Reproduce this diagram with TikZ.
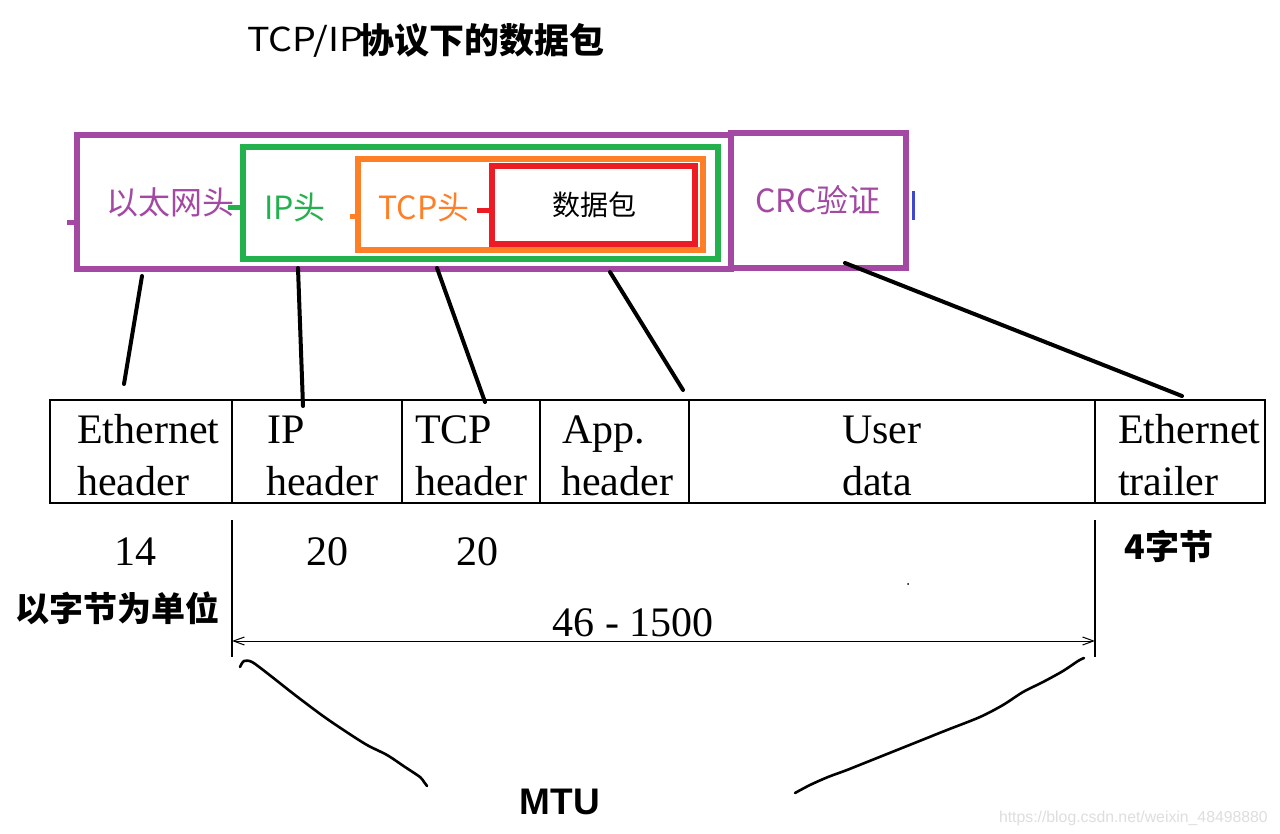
\documentclass[tikz,border=0pt]{standalone}
\usepackage{fontspec}
\setmainfont{Liberation Serif}
\newfontfamily\cjk{Noto Sans CJK SC}
\newfontfamily\arialf{Liberation Sans}
\usetikzlibrary{arrows.meta}
\definecolor{ppl}{HTML}{A349A4}
\definecolor{grn}{HTML}{22B14C}
\definecolor{org}{HTML}{FF7F27}
\definecolor{rd}{HTML}{ED1C24}
\definecolor{blu}{HTML}{3F48CC}
\begin{document}
\begin{tikzpicture}[x=1pt,y=-1pt,
  cbox/.style={draw=#1, line width=5.5pt, inner sep=0pt, fill=none},
  lab/.style={font=\cjk\fontsize{32}{36}\selectfont, text=#1, inner sep=0pt},
  cell/.style={draw, line width=1.2pt, inner sep=0pt, minimum height=103pt},
  tt/.style={font=\fontsize{42}{50}\selectfont, inner sep=0pt, anchor=base west},
  num/.style={font=\fontsize{42}{50}\selectfont, inner sep=0pt, anchor=base},
  bold cjk/.style={font=\cjk\bfseries\fontsize{34}{38}\selectfont, inner sep=0pt},
  hand/.style={line width=4pt, line cap=round},
  pen/.style={line width=2.6pt, line cap=round, line join=round},
  stub/.style={line width=5pt}
]
\useasboundingbox (0,0) rectangle (1280,834);
\fill[white] (0,0) rectangle (1280,834);

% title
\node[inner sep=0pt, anchor=base west, font=\cjk\fontsize{33}{36}\selectfont] (titA) at (247,52) {\scalebox{1.14}[1]{TCP/IP}};
\node[inner sep=0pt, anchor=west, font=\cjk\bfseries\fontsize{35}{38}\selectfont] (titB) at (359,40) {协议下的数据包};

% top boxes
\node[cbox=ppl, line width=6pt, minimum width=654pt, minimum height=134pt] (eth) at (404,202) {};
\node[cbox=ppl, line width=6pt, minimum width=175pt, minimum height=135pt] (crc) at (818.5,200.5) {};
\node[cbox=grn, minimum width=475pt, minimum height=112pt] (ip) at (480.5,203) {};
\node[cbox=org, minimum width=345pt, minimum height=91pt] (tcp) at (530.5,204.5) {};
\node[cbox=rd, minimum width=203pt, minimum height=78pt] (dat) at (593.5,205) {};

\node[lab=ppl] (ethl) at (170,202) {以太网头};
\node[lab=grn] (ipl) at (295,207) {IP头};
\node[lab=org] (tcpl) at (424,207) {TCP头};
\node[lab=black, font=\cjk\fontsize{28}{32}\selectfont] (datl) at (594,205) {数据包};
\node[lab=ppl] (crcl) at (818,200) {CRC验证};

% small stubs
\draw[stub, ppl] (67,223) -- (77,223);
\draw[stub, grn] (ethl.east |- 0,208) ++(-6,0) -- (243,208);
\draw[stub, org] (350,217) -- (358,217);
\draw[stub, rd] (477,211) -- (492,211);
\draw[line width=3.5pt, blu] (913.5,191) -- (913.5,220);

% table
\node[cell, minimum width=182pt] (c1) at (141,451.5) {};
\node[cell, minimum width=170pt] (c2) at (317,451.5) {};
\node[cell, minimum width=138pt] (c3) at (471,451.5) {};
\node[cell, minimum width=149pt] (c4) at (614.5,451.5) {};
\node[cell, minimum width=406pt] (c5) at (892,451.5) {};
\node[cell, minimum width=170pt] (c6) at (1180,451.5) {};

\node[tt] (t1a) at (77,443) {Ethernet};
\node[tt] (t1b) at (77,495) {header};
\node[tt] (t2a) at (267,443) {IP};
\node[tt] (t2b) at (266,495) {header};
\node[tt] (t3a) at (415,443) {TCP};
\node[tt] (t3b) at (415,495) {header};
\node[tt] (t4a) at (562,443) {App.};
\node[tt] (t4b) at (561,495) {header};
\node[tt] (t5a) at (842,443) {User};
\node[tt] (t5b) at (842,495) {data};
\node[tt] (t6a) at (1118,443) {Ethernet};
\node[tt] (t6b) at (1118,495) {trailer};

% numbers
\node[num] (n14) at (135,565) {14};
\node[num] (n20a) at (327,565) {20};
\node[num] (n20b) at (477,565) {20};
\node[num] (nmtu) at (633,636) {46 - 1500};
\node[bold cjk] (unit) at (118,608) {以字节为单位};
\node[bold cjk] (four) at (1169,546) {4字节};
\node[inner sep=0pt, font=\arialf\bfseries\fontsize{37}{40}\selectfont] (mtu) at (560,802) {MTU};
\node[inner sep=0pt, anchor=east, font=\arialf\fontsize{15.8}{18}\selectfont, text=black!13] (wm) at (1268,818) {https://blog.csdn.net/weixin\_48498880};

% connectors from boxes to table
\coordinate (a1) at (142,276); \coordinate (b1) at (124,384);
\coordinate (a2) at (298,268); \coordinate (b2) at (303,406);
\coordinate (a3) at (437,268); \coordinate (b3) at (485,402);
\coordinate (a4) at (610,272); \coordinate (b4) at (683,390);
\coordinate (a5) at (845,263); \coordinate (b5) at (1182,396);
\draw[hand] (a1) -- (b1);
\draw[hand] (a2) -- (b2);
\draw[hand] (a3) -- (b3);
\draw[hand] (a4) -- (b4);
\draw[hand] (a5) -- (b5);

% MTU span
\coordinate (vl1) at (232,520); \coordinate (vl2) at (232,657);
\coordinate (vr1) at (1095,520); \coordinate (vr2) at (1095,657);
\draw[line width=1.2pt] (vl1) -- (vl2);
\draw[line width=1.2pt] (vr1) -- (vr2);
\coordinate (al) at (232,641); \coordinate (ar) at (1095,641);
\draw[line width=1pt, {Straight Barb[length=11pt,width=8pt]}-{Straight Barb[length=11pt,width=8pt]}] (al) -- (ar);
\fill (908,584) circle (1pt);

% hand-drawn MTU braces
\draw[pen] plot[smooth, tension=0.5] coordinates {(240,667) (244,661) (252,662) (267,673) (295,695) (323,716) (345,731) (367,745) (387,755) (405,767) (420,777) (424,782) (427,786)};
\draw[pen] plot[smooth, tension=0.5] coordinates {(795,793) (810,785) (828,777) (847,770) (872,760) (897,750) (922,740) (947,730) (980,717) (1003,705) (1023,692) (1043,682) (1063,671) (1078,661) (1084,658)};
\end{tikzpicture}
\end{document}
